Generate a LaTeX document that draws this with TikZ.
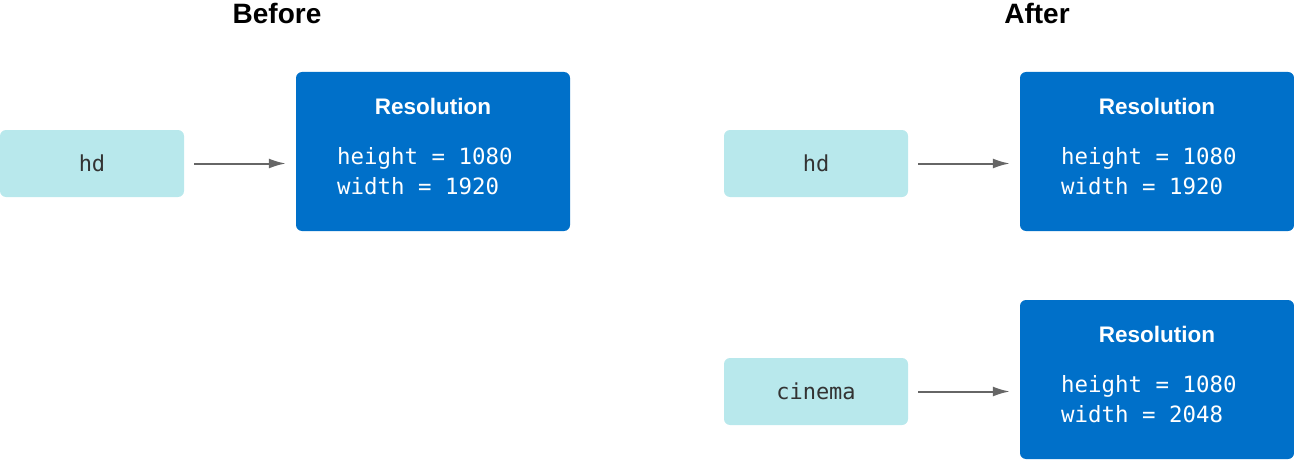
\documentclass[tikz,border=0pt]{standalone}
\usepackage{fontspec}
\setmainfont{Liberation Sans}
\newfontfamily\monof{DejaVu Sans Mono}
\usetikzlibrary{arrows.meta}
\definecolor{resblue}{HTML}{0070C9}
\definecolor{varcyan}{HTML}{B8E8EC}
\definecolor{arrgray}{HTML}{666666}
\definecolor{vartext}{HTML}{333333}
\tikzset{
  varbox/.style={fill=varcyan, rounded corners=6pt, minimum width=184pt, minimum height=67pt, inner sep=0pt, font=\monof\fontsize{22}{26}\selectfont, text=vartext},
  resbox/.style={fill=resblue, rounded corners=6pt, minimum width=274pt, minimum height=159pt, inner sep=0pt},
  restitle/.style={text=white, font=\bfseries\fontsize{22.5}{26}\selectfont, inner sep=0pt},
  resbody/.style={text=white, font=\monof\fontsize{22.4}{30}\selectfont, align=left, anchor=west, inner sep=0pt},
  heading/.style={font=\bfseries\fontsize{28}{32}\selectfont, inner sep=0pt},
  conn/.style={draw=arrgray, line width=2pt, -{Latex[length=17pt,width=10pt]}, shorten <=10pt, shorten >=10pt}
}
\begin{document}
\begin{tikzpicture}[x=1pt,y=-1pt]
\useasboundingbox (0,0) rectangle (1294,460);
% headings
\node[heading] (hbefore) at (277,13) {Before};
\node[heading] (hafter) at (1037,13) {After};
% before
\node[varbox] (hd1) at (92,163.5) {hd};
\node[resbox] (r1) at (433,151.5) {};
\node[restitle] (t1) at (433,106) {Resolution};
\node[resbody] (b1) at (337,171) {height = 1080\\width = 1920};
\draw[conn] (hd1.east) -- (r1.west |- hd1.east);
% after top
\node[varbox] (hd2) at (816,163.5) {hd};
\node[resbox] (r2) at (1157,151.5) {};
\node[restitle] (t2) at (1157,106) {Resolution};
\node[resbody] (b2) at (1061,171) {height = 1080\\width = 1920};
\draw[conn] (hd2.east) -- (r2.west |- hd2.east);
% after bottom
\node[varbox] (cin) at (816,391.5) {cinema};
\node[resbox] (r3) at (1157,379.5) {};
\node[restitle] (t3) at (1157,334) {Resolution};
\node[resbody] (b3) at (1061,399) {height = 1080\\width = 2048};
\draw[conn] (cin.east) -- (r3.west |- cin.east);
\end{tikzpicture}
\end{document}
